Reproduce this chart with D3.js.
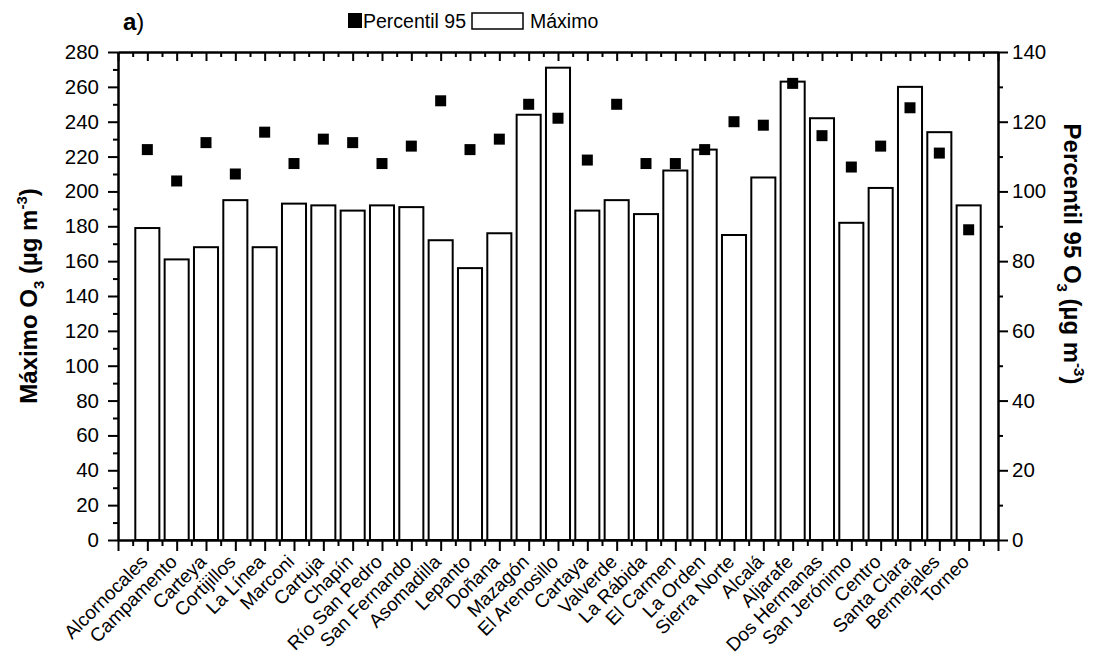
<!DOCTYPE html>
<html>
<head>
<meta charset="utf-8">
<script src="https://cdn.jsdelivr.net/npm/d3@7"></script>
<style>
  body { margin: 0; background: #fff; }
  svg { font-family: "Liberation Sans", Arial, sans-serif; }
  .axis path, .axis line { stroke: #000; stroke-width: 2; }
  .axis text { font-size: 20.5px; fill: #000; }
</style>
</head>
<body>
<div id="chart"></div>
<script>
// station names (x categories)
var stations = ["Alcornocales", "Campamento", "Carteya", "Cortijillos", "La Línea",
  "Marconi", "Cartuja", "Chapín", "Río San Pedro", "San Fernando", "Asomadilla",
  "Lepanto", "Doñana", "Mazagón", "El Arenosillo", "Cartaya", "Valverde",
  "La Rábida", "El Carmen", "La Orden", "Sierra Norte", "Alcalá", "Aljarafe",
  "Dos Hermanas", "San Jerónimo", "Centro", "Santa Clara", "Bermejales", "Torneo"];

// Máximo O3 (left axis), bars
var maximo = [179, 161, 168, 195, 168, 193, 192, 189, 192, 191, 172, 156, 176, 244, 271,
  189, 195, 187, 212, 224, 175, 208, 263, 242, 182, 202, 260, 234, 192];

// Percentil 95 O3 (right axis), squares
var p95 = [112, 103, 114, 105, 117, 108, 115, 114, 108, 113, 126, 112, 115, 125, 121,
  109, 125, 108, 108, 112, 120, 119, 131, 116, 107, 113, 124, 111, 89];

var leftTicks = d3.range(0, 281, 20);
var rightTicks = d3.range(0, 141, 20);

var width = 1093, height = 662;
var plot = {left: 118, right: 998, top: 52, bottom: 540};

var svg = d3.select("#chart").append("svg")
  .attr("width", width)
  .attr("height", height);

var x = d3.scaleLinear().domain([0, 30]).range([plot.left, plot.right]);
var yL = d3.scaleLinear().domain([0, 280]).range([plot.bottom, plot.top]);
var yR = d3.scaleLinear().domain([0, 140]).range([plot.bottom, plot.top]);

var unit = x(1) - x(0);
var barW = unit * 0.82;

// bars
svg.append("g").selectAll("rect")
  .data(maximo)
  .enter().append("rect")
  .attr("x", function(d, i) { return x(i + 1) - barW / 2; })
  .attr("y", function(d) { return yL(d); })
  .attr("width", barW)
  .attr("height", function(d) { return yL(0) - yL(d); })
  .attr("fill", "#fff")
  .attr("stroke", "#000")
  .attr("stroke-width", 2);

// squares
var ms = 11;
svg.append("g").selectAll("rect")
  .data(p95)
  .enter().append("rect")
  .attr("x", function(d, i) { return x(i + 1) - ms / 2; })
  .attr("y", function(d) { return yR(d) - ms / 2; })
  .attr("width", ms)
  .attr("height", ms)
  .attr("fill", "#000");

// minor ticks helper
function minor(axis, vals, size) {
  return axis.tickValues(vals).tickSize(size).tickFormat("").tickSizeOuter(0);
}

var halfs = d3.range(0.5, 30, 1);

// bottom axis
svg.append("g").attr("class", "axis")
  .attr("transform", "translate(0," + plot.bottom + ")")
  .call(minor(d3.axisBottom(x), halfs, 6));
var bMajor = svg.append("g").attr("class", "axis")
  .attr("transform", "translate(0," + plot.bottom + ")")
  .call(d3.axisBottom(x).tickValues(d3.range(0, 31)).tickSize(11).tickSizeOuter(0)
    .tickFormat(function(d) { return (d >= 1 && d <= 29) ? stations[d - 1] : ""; }));
bMajor.selectAll("text")
  .style("font-size", "19px")
  .attr("text-anchor", "end")
  .attr("x", 0).attr("y", 0).attr("dy", 0)
  .attr("transform", "translate(1,23) rotate(-45)");

// top axis (ticks inward)
svg.append("g").attr("class", "axis")
  .attr("transform", "translate(0," + plot.top + ")")
  .call(minor(d3.axisTop(x), halfs, -5));
svg.append("g").attr("class", "axis")
  .attr("transform", "translate(0," + plot.top + ")")
  .call(minor(d3.axisTop(x), d3.range(0, 31), -9));

// left axis
svg.append("g").attr("class", "axis")
  .attr("transform", "translate(" + plot.left + ",0)")
  .call(minor(d3.axisLeft(yL), d3.range(10, 280, 20), 5));
svg.append("g").attr("class", "axis")
  .attr("transform", "translate(" + plot.left + ",0)")
  .call(d3.axisLeft(yL).tickValues(leftTicks).tickSize(10).tickSizeOuter(0).tickPadding(9));

// right axis
svg.append("g").attr("class", "axis")
  .attr("transform", "translate(" + plot.right + ",0)")
  .call(minor(d3.axisRight(yR), d3.range(10, 140, 20), 5));
svg.append("g").attr("class", "axis")
  .attr("transform", "translate(" + plot.right + ",0)")
  .call(d3.axisRight(yR).tickValues(rightTicks).tickSize(10).tickSizeOuter(0).tickPadding(4));

// axis titles
var lt = svg.append("text")
  .attr("transform", "translate(37,296) rotate(-90)")
  .attr("text-anchor", "middle")
  .style("font-size", "24px").style("font-weight", "bold");
lt.append("tspan").text("Máximo O");
lt.append("tspan").attr("dy", 7).style("font-size", "15px").text("3");
lt.append("tspan").attr("dy", -7).text(" (µg m");
lt.append("tspan").attr("dy", -10).style("font-size", "15px").text("-3");
lt.append("tspan").attr("dy", 10).text(")");

var rt = svg.append("text")
  .attr("transform", "translate(1064,254) rotate(90)")
  .attr("text-anchor", "middle")
  .style("font-size", "24px").style("font-weight", "bold");
rt.append("tspan").text("Percentil 95 O");
rt.append("tspan").attr("dy", 7).style("font-size", "15px").text("3");
rt.append("tspan").attr("dy", -7).text(" (µg m");
rt.append("tspan").attr("dy", -10).style("font-size", "15px").text("-3");
rt.append("tspan").attr("dy", 10).text(")");

// panel label
var pl = svg.append("text").attr("x", 123).attr("y", 30).style("font-size", "24px");
pl.append("tspan").style("font-weight", "bold").text("a");
pl.append("tspan").text(")");

// legend
var lg = svg.append("g");
lg.append("rect").attr("x", 348).attr("y", 13).attr("width", 14).attr("height", 15).attr("fill", "#000");
lg.append("text").attr("x", 363).attr("y", 28).style("font-size", "19.5px").text("Percentil 95");
lg.append("rect").attr("x", 472).attr("y", 13).attr("width", 51).attr("height", 16)
  .attr("fill", "#fff").attr("stroke", "#000").attr("stroke-width", 1.5);
lg.append("text").attr("x", 530).attr("y", 28).style("font-size", "19.5px").text("Máximo");
</script>
</body>
</html>
